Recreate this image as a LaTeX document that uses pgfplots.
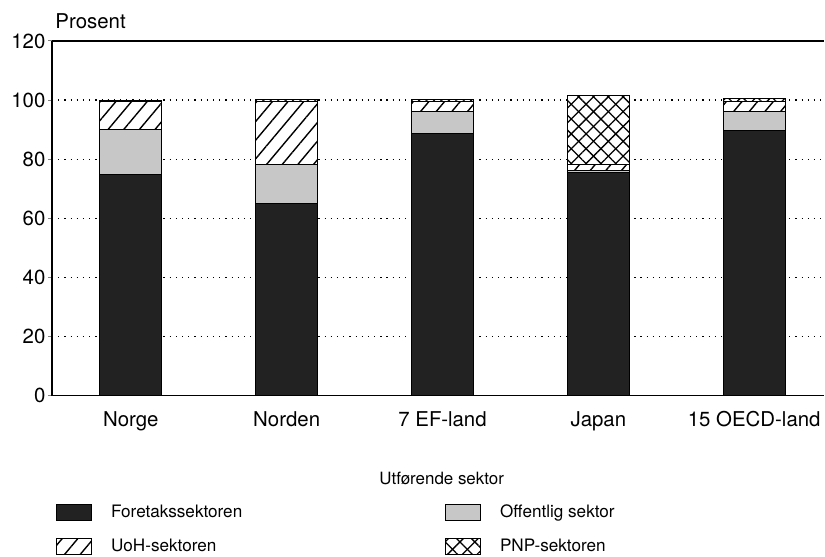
\documentclass[border=0pt]{standalone}
\usepackage{fontspec}
\setmainfont{TeX Gyre Heros}
\usepackage{pgfplots}
\pgfplotsset{compat=1.18}
\usetikzlibrary{patterns.meta}
\definecolor{barblack}{HTML}{222222}
\begin{document}
\begin{tikzpicture}
\begin{axis}[
  name=ax,
  scale only axis, width=773bp, height=355bp,
  xmin=-0.506, xmax=4.45, ymin=0, ymax=120,
  ybar stacked, bar width=62bp,
  axis x line*=box, axis y line*=left,
  axis line style={line width=1.3bp},
  xtick={0,1,2,3,4},
  xticklabels={Norge,Norden,7 EF-land,Japan,15 OECD-land},
  xtick style={draw=none},
  ytick={0,20,...,120}, ytick pos=left,
  tick align=outside, major tick length=4bp,
  ytick style={line width=1bp},
  ymajorgrids,
  grid style={black, line width=1.2bp, dash pattern=on 1.2bp off 5bp},
  /pgf/number format/assume math mode=true,
  yticklabel style={font=\fontsize{20.5}{24}\selectfont, xshift=1bp},
  xticklabel style={font=\fontsize{20.5}{24}\selectfont, yshift=-8bp},
  legend columns=2,
  legend style={at={(0.0013,-0.2986)}, anchor=north west, draw=none,
    font=\fontsize{17.2}{20}\selectfont,
    nodes={inner sep=0pt, anchor=west},
    row sep=17bp,
    /tikz/every odd column/.append style={column sep=19bp},
    /tikz/every even column/.append style={column sep=203bp}},
  legend image code/.code={\draw[#1, line width=1bp] (0bp,-8bp) rectangle (35bp,8bp);},
  every axis plot/.append style={draw=black, line width=1bp},
]
\addplot[fill=barblack] coordinates {(0,74.7) (1,64.9) (2,88.6) (3,75.5) (4,89.6)};
\addlegendentry{Foretakssektoren}
\addplot[fill=black!22] coordinates {(0,15.2) (1,13.4) (2,7.5) (3,0.6) (4,6.5)};
\addlegendentry{Offentlig sektor}
\addplot[fill=white, postaction={pattern={Lines[angle=50,distance=12bp,line width=1.4bp]}}] coordinates {(0,9.6) (1,21.3) (2,3.4) (3,2.0) (4,3.4)};
\addlegendentry{UoH-sektoren}
\addplot[fill=white, postaction={pattern={Lines[angle=45,distance=10.5bp,line width=1.3bp]}}, postaction={pattern={Lines[angle=-45,distance=10.5bp,line width=1.3bp]}}] coordinates {(0,0.5) (1,0.5) (2,0.8) (3,23.5) (4,1.0)};
\addlegendentry{PNP-sektoren}
\end{axis}
\node[anchor=base west, font=\fontsize{20.5}{24}\selectfont, yshift=12bp] at (ax.north west) {Prosent};
\node[anchor=base, font=\fontsize{17}{20}\selectfont, xshift=390bp, yshift=-89bp] at (ax.south west) {Utførende sektor};
\path (ax.south west) ++(-52bp,-159bp) rectangle ++(825bp,555bp);
\end{tikzpicture}
\end{document}
